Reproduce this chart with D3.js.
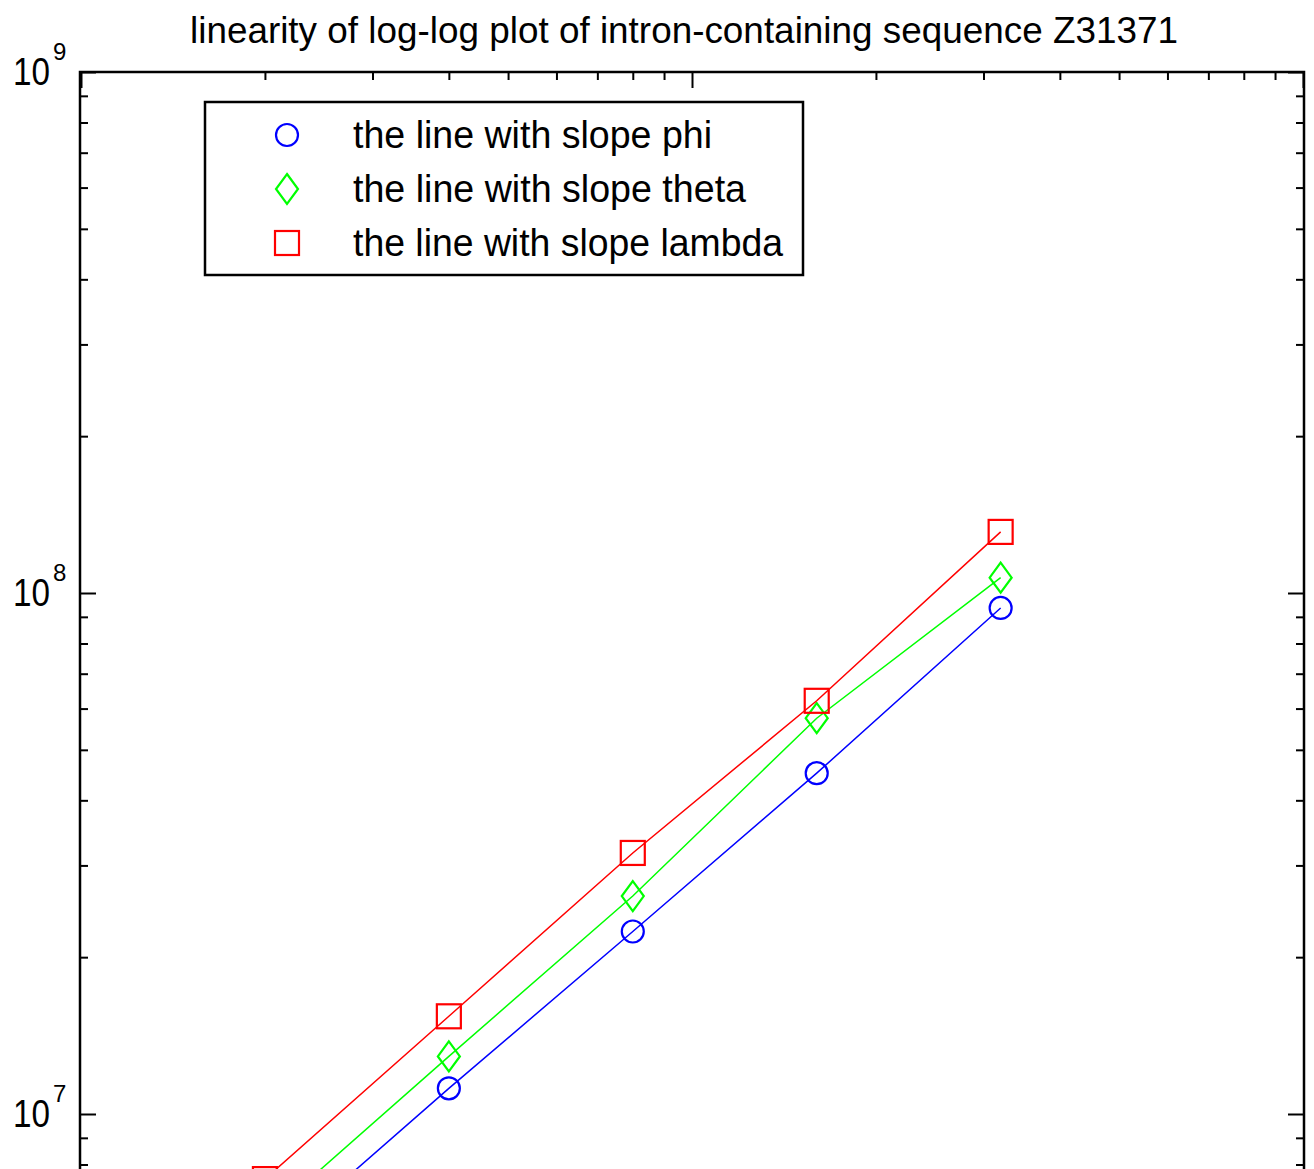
<!DOCTYPE html>
<html>
<head>
<meta charset="utf-8">
<script src="https://cdn.jsdelivr.net/npm/d3@7"></script>
<style>
  body { margin: 0; background: #fff; }
  svg { display: block; }
  text { font-family: "Liberation Sans Narrow", "Arial Narrow", "Liberation Sans", Arial, sans-serif; fill: #000; }
</style>
</head>
<body>
<svg width="1314" height="1169"></svg>
<script>
const svg = d3.select("svg");
const width = +svg.attr("width");
const height = +svg.attr("height");

// data
const xValues = [2000, 4000, 8000, 16000, 32000];
const phi = [5.5e6, 1.12e7, 2.24e7, 4.51e7, 9.36e7];
const theta = [6.3e6, 1.29e7, 2.62e7, 5.75e7, 1.07e8];
const lambda = [7.5e6, 1.54e7, 3.17e7, 6.21e7, 1.31e8];
const seriesNames = ["the line with slope phi", "the line with slope theta", "the line with slope lambda"];
const yTickExps = [7, 8, 9];
const titleText = "linearity of log-log plot of intron-containing sequence Z31371";

const plotLeft = 80, plotRight = 1304, plotTop = 72;

const x = d3.scaleLog().domain([1e3, 1e5]).range([plotLeft + 1, plotRight - 1]);
const y = d3.scaleLog().domain([1e6, 1e9]).range([plotTop + 1563, plotTop]);

const series = [
  { name: seriesNames[0], values: phi, color: "#0000ff", marker: "circle" },
  { name: seriesNames[1], values: theta, color: "#00ff00", marker: "diamond" },
  { name: seriesNames[2], values: lambda, color: "#ff0000", marker: "square" }
];

svg.append("defs").append("clipPath").attr("id", "clip")
  .append("rect").attr("x", plotLeft).attr("y", plotTop)
  .attr("width", plotRight - plotLeft).attr("height", height - plotTop);

// title
svg.append("text")
  .attr("x", 684).attr("y", 43)
  .attr("text-anchor", "middle")
  .attr("font-size", 37)
  .attr("textLength", 988).attr("lengthAdjust", "spacingAndGlyphs")
  .text(titleText);

// ticks
const xMajor = [1e3, 1e4, 1e5];
const xMinor = [];
for (let e = 3; e < 5; e++) for (let k = 2; k <= 9; k++) xMinor.push(k * Math.pow(10, e));
const yMajor = yTickExps.map(e => Math.pow(10, e));
const yMinor = [];
for (let e = 6; e < 9; e++) for (let k = 2; k <= 9; k++) yMinor.push(k * Math.pow(10, e));

function tickAxis(axis, tr, vals, size) {
  const g = svg.append("g").attr("transform", tr)
    .call(axis.tickValues(vals).tickSize(size).tickFormat(""));
  g.select(".domain").remove();
  g.selectAll("line").attr("stroke", "#000").attr("stroke-width", 2);
}
tickAxis(d3.axisBottom(x), `translate(0,${plotTop})`, xMinor, 8);
tickAxis(d3.axisBottom(x), `translate(0,${plotTop})`, xMajor, 16);
tickAxis(d3.axisRight(y), `translate(${plotLeft},0)`, yMinor, 8);
tickAxis(d3.axisRight(y), `translate(${plotLeft},0)`, yMajor, 16);
tickAxis(d3.axisLeft(y), `translate(${plotRight},0)`, yMinor, 8);
tickAxis(d3.axisLeft(y), `translate(${plotRight},0)`, yMajor, 16);

// frame
svg.append("path")
  .attr("d", `M${plotLeft},${height + 5}V${plotTop}H${plotRight}V${height + 5}`)
  .attr("fill", "none").attr("stroke", "#000").attr("stroke-width", 2.5);

// y tick labels
yTickExps.forEach(e => {
  const ty = y(Math.pow(10, e));
  svg.append("text").attr("x", 13).attr("y", ty + 13)
    .attr("font-size", 38)
    .attr("textLength", 37).attr("lengthAdjust", "spacingAndGlyphs")
    .text("10");
  svg.append("text").attr("x", 53).attr("y", ty - 12)
    .attr("font-size", 24).text(e);
});

// lines and markers
const plot = svg.append("g").attr("clip-path", "url(#clip)");
const line = d3.line().x((d, i) => x(xValues[i])).y(d => y(d));

function drawMarker(g, type, cx, cy, color) {
  if (type === "circle") {
    g.append("circle").attr("cx", cx).attr("cy", cy).attr("r", 11)
      .attr("fill", "none").attr("stroke", color).attr("stroke-width", 2.2);
  } else if (type === "square") {
    g.append("rect").attr("x", cx - 12).attr("y", cy - 12).attr("width", 24).attr("height", 24)
      .attr("fill", "none").attr("stroke", color).attr("stroke-width", 2.2);
  } else {
    g.append("path").attr("d", `M${cx},${cy - 15}L${cx + 11},${cy}L${cx},${cy + 15}L${cx - 11},${cy}Z`)
      .attr("fill", "none").attr("stroke", color).attr("stroke-width", 2.2);
  }
}

series.forEach(s => {
  plot.append("path").datum(s.values)
    .attr("fill", "none").attr("stroke", s.color).attr("stroke-width", 1.5)
    .attr("d", line);
  s.values.forEach((v, i) => drawMarker(plot, s.marker, x(xValues[i]), y(v), s.color));
});

// legend
const legend = svg.append("g");
legend.append("rect").attr("x", 205).attr("y", 102).attr("width", 598).attr("height", 173)
  .attr("fill", "#fff").attr("stroke", "#000").attr("stroke-width", 2.5);
const textLens = [359, 393, 430];
series.forEach((s, i) => {
  const ly = 135 + i * 54;
  drawMarker(legend, s.marker, 287, ly, s.color);
  legend.append("text").attr("x", 353).attr("y", ly + 13)
    .attr("font-size", 38)
    .attr("textLength", textLens[i]).attr("lengthAdjust", "spacingAndGlyphs")
    .text(s.name);
});
</script>
</body>
</html>
